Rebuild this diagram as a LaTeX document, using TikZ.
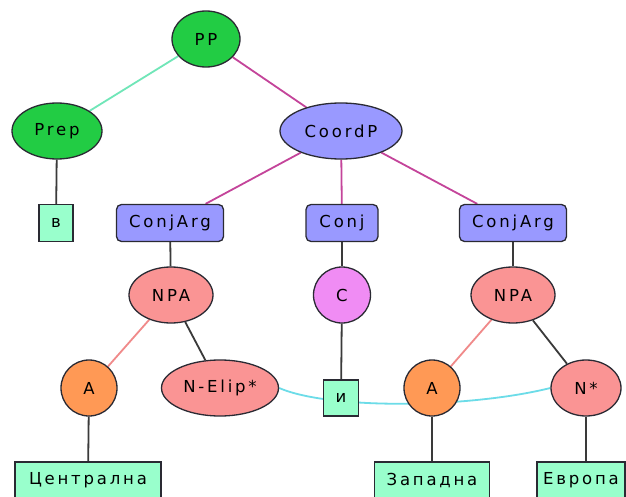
\documentclass[tikz,border=0pt]{standalone}
\usepackage{fontspec}
\newfontfamily\lblfont[LetterSpace=17]{DejaVu Sans}
\usetikzlibrary{shapes.geometric,backgrounds}

\definecolor{greenfill}{HTML}{22CC44}
\definecolor{coordfill}{HTML}{9999FF}
\definecolor{npafill}{HTML}{FA9494}
\definecolor{afill}{HTML}{FF9955}
\definecolor{cfill}{HTML}{F08CF4}
\definecolor{leaffill}{HTML}{99FFCC}
\definecolor{outline}{HTML}{2A2A33}
\definecolor{mintline}{HTML}{70E6B8}
\definecolor{magline}{HTML}{C4449A}
\definecolor{pinkline}{HTML}{F08A8A}
\definecolor{darkline}{HTML}{3A3A3A}
\definecolor{cyanline}{HTML}{6CDCE8}

\tikzset{
  lbl/.style={font=\lblfont\fontsize{16.5}{19}\selectfont, text=black, inner sep=0pt},
  oval/.style={lbl, ellipse, draw=outline, line width=1.3pt, minimum height=56pt},
  tag/.style={lbl, rectangle, rounded corners=5pt, draw=outline, line width=1.3pt,
              fill=coordfill, minimum height=37pt},
  leaf/.style={lbl, rectangle, draw=outline, line width=1.3pt,
               fill=leaffill, minimum height=37pt},
  edge/.style={line width=1.8pt},
}

\begin{document}
\begin{tikzpicture}[x=1pt, y=-1pt]
\useasboundingbox (0,0) rectangle (626,497);

% phrase-level nodes
\node[oval, fill=greenfill, minimum width=68pt] (pp) at (206,39) {PP};
\node[oval, fill=greenfill, minimum width=90pt] (prep) at (57,131) {Prep};
\node[oval, fill=coordfill, minimum width=122pt] (coordp) at (341,131) {CoordP};

% coordination slots
\node[leaf, minimum width=34pt] (v) at (56,223) {в};
\node[tag, minimum width=107pt] (argl) at (170,223) {ConjArg};
\node[tag, minimum width=72pt] (conj) at (342,223) {Conj};
\node[tag, minimum width=107pt] (argr) at (513,223) {ConjArg};

% noun phrases and conjunction
\node[oval, fill=npafill, minimum width=84pt] (npal) at (171,295) {NPA};
\node[oval, fill=cfill, minimum width=57pt] (c) at (342,295) {C};
\node[oval, fill=npafill, minimum width=84pt] (npar) at (513,295) {NPA};

% words
\node[oval, fill=afill, minimum width=56pt] (al) at (89,388) {A};
\node[oval, fill=npafill, minimum width=117pt] (nelip) at (220,388) {N-Elip*};
\node[leaf, minimum width=35pt, minimum height=36pt] (i) at (341,398) {и};
\node[oval, fill=afill, minimum width=56pt] (ar) at (432,388) {A};
\node[oval, fill=npafill, minimum width=70pt] (nstar) at (586,388) {N*};

% leaves
\node[leaf, minimum width=146pt] (centr) at (88,480.5) {Централна};
\node[leaf, minimum width=115pt] (zap) at (432,480.5) {Западна};
\node[leaf, minimum width=88pt] (evr) at (581,480.5) {Европа};

\begin{scope}[on background layer]
  \fill[white] (0,0) rectangle (626,497);
  \draw[edge, mintline] (pp) -- (prep);
  \draw[edge, magline] (pp) -- (coordp);
  \draw[edge, magline] (coordp) -- (argl);
  \draw[edge, magline] (coordp) -- (conj);
  \draw[edge, magline] (coordp) -- (argr);
  \draw[edge, darkline] (prep) -- (v);
  \draw[edge, darkline] (argl) -- (npal);
  \draw[edge, darkline] (conj) -- (c);
  \draw[edge, darkline] (argr) -- (npar);
  \draw[edge, pinkline] (npal) -- (al);
  \draw[edge, darkline] (npal) -- (nelip);
  \draw[edge, darkline] (c) -- (i);
  \draw[edge, pinkline] (npar) -- (ar);
  \draw[edge, darkline] (npar) -- (nstar);
  \draw[edge, darkline] (al) -- (centr);
  \draw[edge, darkline] (ar) -- (zap);
  \draw[edge, darkline] (nstar.south) -- (nstar.south |- evr.north);
  % ellipsis link between the elided noun and its antecedent
  \draw[edge, cyanline] (nelip.east) .. controls (330,410) and (470,408) .. (nstar.west);
\end{scope}
\end{tikzpicture}
\end{document}
